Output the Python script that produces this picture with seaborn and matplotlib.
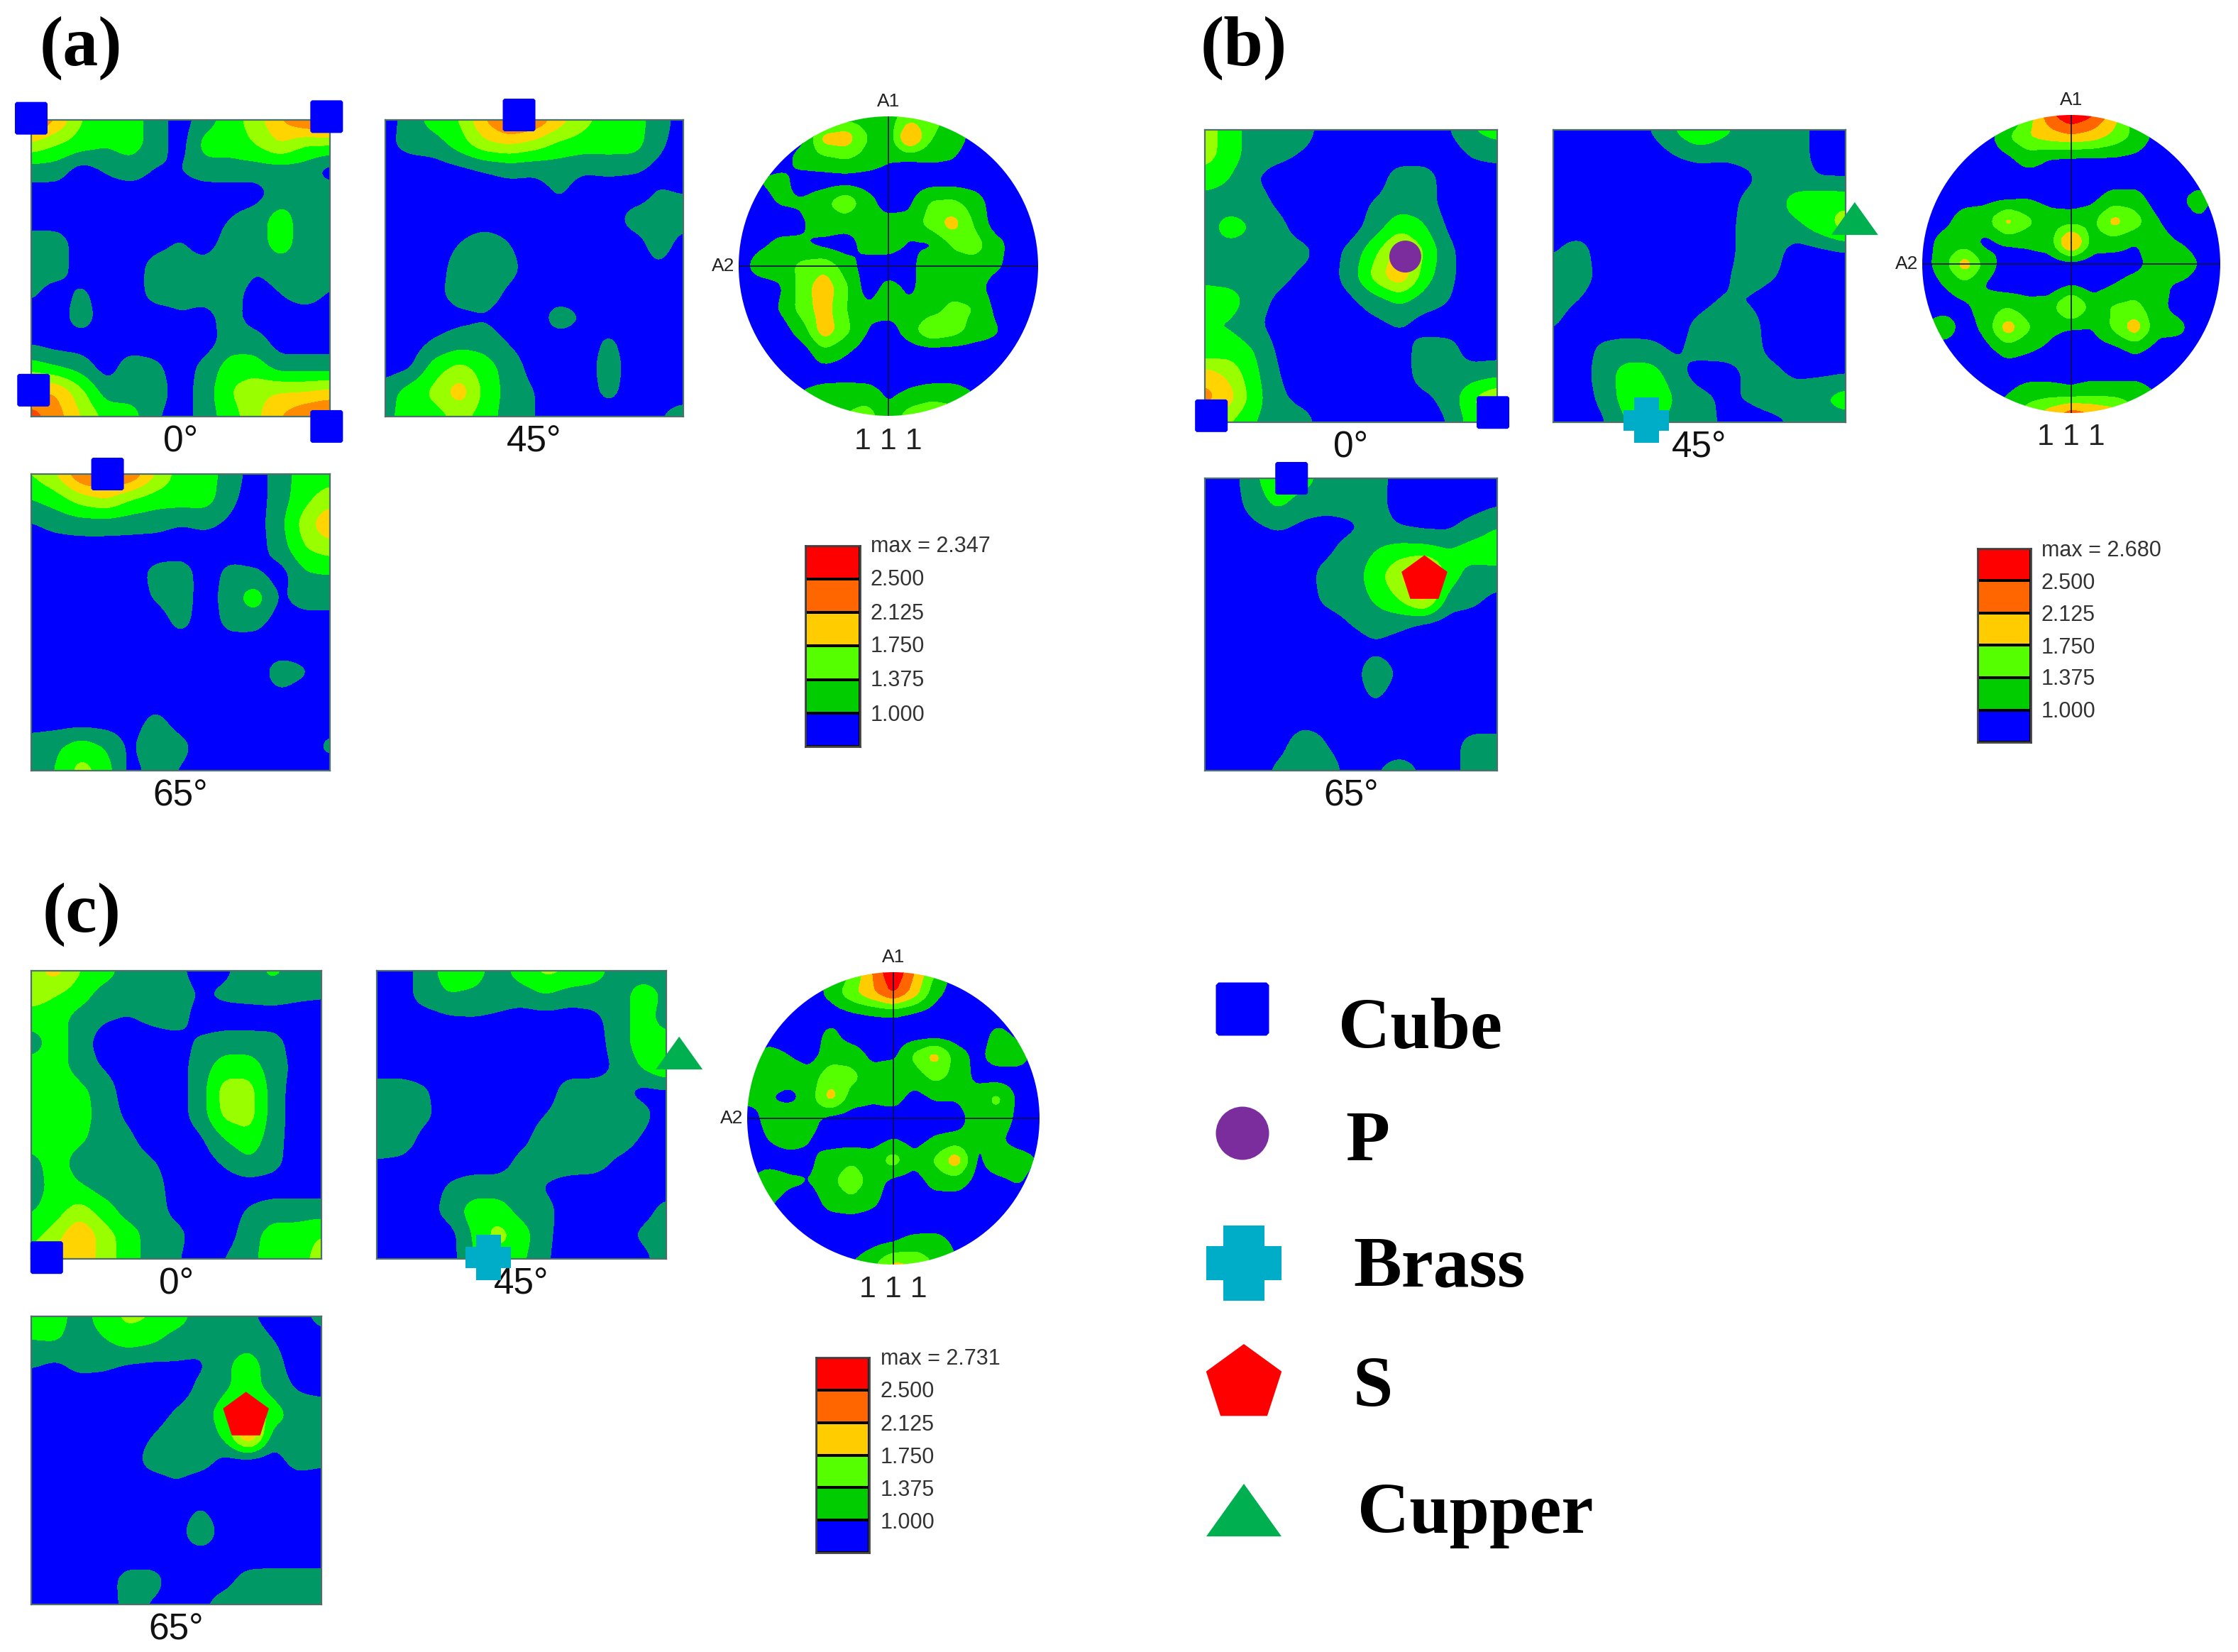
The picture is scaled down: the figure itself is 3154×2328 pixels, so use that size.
import numpy as np
import matplotlib
matplotlib.use("Agg")
import matplotlib.pyplot as plt
from matplotlib.patches import Circle
from matplotlib.path import Path
import seaborn as sns

sns.set_theme(style="white")
plt.rcParams["font.family"] = ["Liberation Sans", "DejaVu Sans"]

W, H = 3154, 2328

# ---------- colours ----------
square_colors = ["#0000FF", "#009966", "#00FF00", "#99FF00", "#FFD400", "#FF8C00", "#FF4400"]
pole_colors = ["#0000FF", "#00CC00", "#55FF00", "#FFCC00", "#FF6600", "#FF0000"]
square_levels = [-9, 0.5, 1.5, 2.5, 3.5, 4.5, 5.5, 99]
pole_levels = [-9, 0.5, 1.5, 2.5, 3.5, 4.5, 99]

# ---------- intensity bands, rows top to bottom ----------
a_0 = [
    [6, 4.5, 2.5, 2, 2, 1, 0, 1, 2, 3, 4.5, 5.5, 6],
    [3.2, 2.5, 2, 1.6, 2, 1, 0, 2, 2, 2.5, 3.5, 2.5, 2.5],
    [1, 1, 0, .6, 1, .4, .5, 1, 1, 1, 1, 1, 0],
    [0, 0, 0, 0, 0, 0, 0, 0, 0, 0, 1, 1, 1],
    [0, 0, 0, 0, 0, 0, 0, 0, .5, 1, 2, 1, 1],
    [1, 1, 0, 0, 0, .2, .6, 0, 1, 1, 2, 1, 1.5],
    [1, 1, 0, 0, 0, .9, .9, .9, 1.5, .6, 1, 1, 1],
    [.7, 0, .7, 0, 0, .9, .8, .8, 1, 0, .5, 1, .4],
    [0, 0, 1, 0, 0, 0, .4, .2, .9, 0, 0, 0, 0],
    [.3, 0, 0, 0, 0, 0, 0, 0, 1, 1, 0, 0, 0],
    [2, 1.5, 1, 0, 1, .7, 0, .8, 2, 2, 1, 1, 1],
    [4.5, 4.5, 2.8, 1, 1, 1, 0, 1, 2.5, 3.2, 3.5, 3.5, 3.8],
    [6, 5, 3.5, 2.2, 2, .6, 0, 1, 2, 3.2, 4.5, 5.5, 6],
]
a_45 = [
    [0, 1, 2, 2.5, 4.5, 6, 5.5, 4, 2.8, 2, 2, 1, 0],
    [.3, .8, 1, 2, 3.2, 3.5, 3, 2.2, 2, 2, 2, .7, 0],
    [0, 0, 0, .2, .5, .8, .7, .9, .6, .7, .6, .2, 0],
    [0, 0, 0, 0, 0, 0, 0, .6, 0, 0, 0, .6, .5],
    [0, 0, 0, 0, 0, 0, 0, 0, 0, 0, .9, 1, .8],
    [0, 0, 0, .5, 1, .5, 0, 0, 0, 0, .1, .9, .2],
    [0, 0, 0, 1, 1, .8, 0, 0, 0, 0, 0, .4, 0],
    [0, 0, .2, 1, 1, .3, 0, 0, 0, 0, 0, 0, 0],
    [0, 0, 0, .2, .4, 0, 0, 1, .4, 0, 0, 0, 0],
    [0, 0, .6, 1, 1, .4, 0, 0, 0, .7, 0, 0, 0],
    [0, .3, 2, 2.8, 2, 1, .1, 0, 0, 1, 0, 0, 0],
    [1, 2, 2.8, 4.2, 2.2, 1.1, .5, 0, 0, .8, 0, 0, 0],
    [1.2, 2, 2, 2.8, 2, 1, .5, 0, 0, 0, 0, .4, 1],
]
a_65 = [
    [2.5, 3.5, 5.5, 6, 5.5, 3.5, 2, 2, 1, 0, 1, 2, 2],
    [1.5, 2, 3, 3.5, 2.5, 2, 2, 2, .7, 0, 1, 2.2, 3],
    [.4, .8, 1, 1, .9, .8, .5, .7, .3, 0, 1.2, 3, 4.5],
    [0, 0, 0, 0, 0, 0, 0, 0, 0, 0, 1, 2.5, 3],
    [0, 0, 0, 0, 0, .8, 1, 0, .8, .6, 0, 1.4, 1.5],
    [0, 0, 0, 0, 0, .6, 1, 0, 1, 2.2, .3, 1, 1],
    [0, 0, 0, 0, 0, 0, .8, 0, .8, .8, 0, 0, 0],
    [0, 0, 0, 0, 0, 0, 0, 0, 0, 0, 0, 0, 0],
    [0, 0, 0, 0, 0, 0, 0, 0, 0, 0, 1, .6, 0],
    [0, 0, 0, 0, 0, 0, 0, 0, 0, 0, .3, 0, 0],
    [0, 0, 0, 0, 0, .8, 0, 0, 0, 0, 0, 0, 0],
    [1, 1.3, 2, 1.4, .2, 1.6, .8, 0, 0, 0, 0, 0, .8],
    [1, 1.5, 3, 2, .1, .9, .4, 0, 0, 0, 0, 0, 0],
]
b_0 = [
    [3, 2, 1, 1, 1, 0, 0, 0, 0, 0, .4, 1.5, 2],
    [3, 2, 1, .8, .4, 0, 0, 0, 0, 0, 0, .6, .8],
    [2, 1.5, .6, 0, 0, 0, 0, 0, 1, 1, 0, 0, 0],
    [1, 1, 1, .3, 0, 0, 0, .6, 1, 1, 0, 0, 0],
    [1, 2, 1.4, .8, 0, 0, 0, 1, 2.2, 1.6, .3, 0, 0],
    [1, 1, 1, 1, .8, 0, .8, 2.3, 4, 2.5, .7, 0, 0],
    [1.2, 1, 1, .8, .3, 0, 1, 3, 4.5, 2, .7, 0, 0],
    [2, 2, 1, .3, 0, 0, .3, 1, 1.7, 1, .5, 0, 0],
    [1.5, 1.4, .8, 0, 0, 0, 0, .2, .6, 0, 0, 0, 0],
    [1.5, 2, 1.5, .3, 0, 0, 0, 0, 0, 1, .9, 0, 0],
    [4, 3.2, 1.8, .5, 0, 0, 0, 0, 0, 1, .7, .9, 1.1],
    [5, 4, 2, .7, .2, 0, 0, 0, 0, .3, .8, 2.5, 3.5],
    [3, 2.5, 1.5, 1, .9, 0, 0, 0, 0, 0, .5, 2, 3],
]
b_45 = [
    [0, 0, 0, 0, .5, 1.5, 2.8, 1.8, 1, 1, 1, 0, 0],
    [0, 0, 0, 0, 0, .5, .8, .7, .8, 1, 1, 0, 0],
    [0, 0, 0, 0, 0, 0, 0, 0, .3, 1, .9, .5, .5],
    [0, 0, 0, 0, 0, 0, 0, 0, .8, 1, 2, 2.5, 2.3],
    [0, 0, 0, 0, 0, 0, 0, 0, 1, 1, 1.2, 2, 3],
    [.4, 1, 0, 0, 0, 0, 0, 0, 1, .9, 0, .2, .4],
    [1, 1, .2, 0, 0, 0, 0, .3, 1, .6, 0, 0, 0],
    [.9, .5, 0, 0, 0, 0, 0, .6, .4, 0, 0, 0, 0],
    [.6, 0, 0, 0, 0, 0, .8, 1.7, 1, 0, 0, 0, 0],
    [0, 0, .7, .9, .8, .3, .9, 1, .8, .3, 0, 0, 0],
    [0, 0, .9, 2, 2, .9, 0, 0, .7, .7, .3, .3, .4],
    [0, 0, .7, 2, 2.5, 1.4, .8, .3, .6, 1, 1, 1.4, 2],
    [0, 0, .3, 1.5, 2, 1.1, 1, .3, 0, .2, .7, 1, 1],
]
b_65 = [
    [0, 0, 1.2, 2.5, 2, 1, 1, 1, 0, 0, 0, 0, 0],
    [0, 0, .9, 1.8, 1, 1, 1, .9, 0, 0, 0, 0, .3],
    [0, 0, .3, .6, .3, 0, .3, .9, .5, .3, .3, .9, 1.5],
    [0, 0, 0, 0, 0, .3, 1, 1.5, 2, 2, 1.6, 2, 2.2],
    [0, 0, 0, 0, 0, .9, 1, 2, 3.5, 5, 2, 1, 1],
    [0, 0, 0, 0, 0, .7, 1, 1.6, 2.5, 4, 1, .7, .2],
    [0, 0, 0, 0, 0, 0, .5, .9, .7, .2, 0, 0, 0],
    [0, 0, 0, 0, 0, 0, 0, .3, 0, 0, 0, 0, 0],
    [0, 0, 0, 0, 0, 0, 0, 1.2, .3, 0, 0, 0, 0],
    [0, 0, 0, 0, 0, 0, 0, .6, 0, 0, 0, 0, 0],
    [0, 0, 0, 0, .3, .3, 0, 0, 0, 0, 0, 0, 0],
    [0, 0, 0, .2, 1, .5, 0, 0, 0, 0, 0, 1, 1],
    [0, 0, 0, .7, 1, 1, .1, .4, 1, .3, 0, 1, 1],
]
c_0 = [
    [3, 4, 2.5, 2, 1, 1, .8, 0, .3, 1, 1.8, 1, 1.2],
    [3, 2.5, 2, 1, 1, 1, 1, .4, .7, .8, .9, .7, .6],
    [2, 2, 1, .6, .4, .7, 1, 0, 0, 0, 0, 0, 0],
    [.9, 2, 1, 0, 0, 0, 0, .7, 1, 1, .9, 0, 0],
    [2, 2, 1, .4, 0, 0, 0, 1, 2, 2, 1, .2, 0],
    [2, 2.5, 1.8, 1, 0, 0, 0, 1, 3, 3, 1, 0, 0],
    [2, 2, 2, 1, .3, 0, 0, 1, 2.8, 3, 1, 0, 0],
    [2, 2, 1.7, 1, .7, 0, 0, .3, 1.5, 2.2, .9, 0, 0],
    [1.1, 2, 1, 1, 1, .6, 0, 0, .6, 1.3, .8, 0, 0],
    [.8, 2, 1.6, 1, 1, 1, 0, 0, 0, 0, 0, 0, 0],
    [1.4, 2, 3, 2, 1, 1, .2, 0, 0, .6, 1, 1, 1],
    [2, 3, 4.5, 3, 2, 1, .8, 0, 0, 1, 2, 2, 2.5],
    [3, 4, 4.5, 3, 2, 1, .6, 0, .5, 1.2, 2, 2, 3],
]
c_45 = [
    [0, 0, 1, 2, 2, 1, 2, 2.8, 2.5, 2, 1, 1, 1],
    [0, 0, 1, 1.5, 1.3, 1, 1, 1.5, 1, 1, 1, 2, 1.3],
    [0, 0, 0, .3, .4, .3, 0, 0, 0, .2, 1, 2, 1],
    [0, 0, 0, 0, 0, 0, 0, 0, 0, 0, 1, 2, 2],
    [0, 0, 0, 0, 0, 0, 0, 0, 0, 0, .7, 1.6, 2.5],
    [1, 1, .6, 0, 0, 0, 0, 0, 1, 1, .8, .2, .3],
    [1, 1, .7, 0, 0, 0, 0, .5, 1, 1, 1, .8, 0],
    [1, 1, .2, 0, 0, 0, .2, 1, 1.3, 1, 1, .4, 0],
    [.4, .3, 0, 0, 0, 0, .8, 1, 1, .9, .3, 0, 0],
    [0, 0, 0, .6, 1, 1, 1, .4, 0, 0, 0, 0, 0],
    [0, 0, 0, .9, 2, 2, 1.1, .8, 0, 0, 0, 0, .9],
    [0, 0, 0, 0, 1.6, 3, 2, .7, 0, 0, 0, .7, 1.5],
    [0, 0, 0, 0, 1.5, 2, 1.7, .6, 0, 0, 0, 0, 1.3],
]
c_65 = [
    [2, 2, 1, 2, 2.8, 2.5, 2, 1, 1, .7, 0, .3, .7],
    [1.5, 1.6, 1, 1.4, 2, 1.7, 1, 1, 1, 1.1, .5, 0, .3],
    [.6, .3, .8, .7, .4, .3, .4, .3, 1.3, 2, .9, 0, 0],
    [0, 0, 0, 0, 0, 0, 0, .7, 1.3, 2, 1, .4, .2],
    [0, 0, 0, 0, 0, 0, .6, 1, 2, 4, 2, 1, 1],
    [0, 0, 0, 0, 0, .5, 1, 1, 1.6, 5, .9, 1.7, 1],
    [0, 0, 0, 0, 0, .9, 1, .9, .2, 0, 0, .9, .7],
    [0, 0, 0, 0, 0, 0, .4, 0, 0, 0, 0, 0, 0],
    [0, 0, 0, 0, 0, 0, 0, .5, 0, 0, 0, 0, 0],
    [0, 0, 0, 0, 0, 0, 0, 1.3, 0, 0, 0, 0, 0],
    [0, 0, 0, 0, 0, 0, 0, 0, 0, 0, 0, 0, 0],
    [0, 0, 0, 0, .9, .9, 0, 0, .2, .9, 1, 1, 1],
    [0, 0, 0, 0, .8, .4, 0, .3, .9, 1, 1, 1, 1],
]
pole_a = [
    [0, 0, 0, 0, 0, 1, 1, 1, 2, 2, 1, 0, 0, 0, 0],
    [0, 0, 0, .2, 3, 3.2, 1.5, .8, 4, 1.5, 1, .2, 0, 0, 0],
    [0, 0, 0, 1, 1.2, 1.5, 1.1, .6, .5, .6, .5, 0, 0, 0, 0],
    [0, .5, .8, 0, 0, 0, 0, 0, 0, 0, 0, 0, 0, 0, 0],
    [0, .2, .6, .6, 1.2, 2.3, .9, 0, .3, 1.6, 1.7, 1, 0, 0, 0],
    [0, 0, 0, .4, 1, .9, .7, .9, .8, 2, 3, 1.4, 0, 0, 0],
    [0, .3, .8, .6, .2, 0, .9, .9, .4, .3, 1.6, 2, .9, 0, 0],
    [0, 1, 1, 1.8, 2.2, 1, 0, 0, 0, 1.6, 1, 1, .7, 0, 0],
    [0, 0, .4, 2, 3.2, 1.7, 0, .8, .3, 1, 1, 1, 0, 0, 0],
    [0, 0, .6, 2, 3, 1.5, .7, 1, .7, 1, 1.8, 1.5, .3, 0, 0],
    [0, 0, 0, 1, 3.2, 1.8, .5, 0, 1, 2.5, 2, 1.1, .6, 0, 0],
    [0, 0, 0, 0, 1.2, .6, 0, 0, 0, 0, 0, 0, .1, .4, 0],
    [0, 0, 0, 0, 0, 0, 0, 0, 0, 0, 0, 0, 0, 0, 0],
    [0, 0, 0, .6, 1, 1.1, 1, .3, .7, 1, 1, .5, 0, 0, 0],
    [0, 0, 0, .5, 1, 1.5, 2, .8, 2, 2.5, 2, 1, 0, 0, 0],
]
pole_b = [
    [0, 0, 0, 0, 0, 2, 4.2, 5.5, 4.6, 3, 1, 0, 0, 0, 0],
    [0, 0, 0, 0, 1.4, 2.5, 3, 3.3, 3, 2.2, 1.2, .2, 0, 0, 0],
    [0, 0, 0, 0, .3, 1, .5, .4, .4, .4, .3, 0, 0, 0, 0],
    [0, 0, 0, 0, 0, 0, 0, 0, 0, 0, 0, 0, 0, 0, 0],
    [0, 0, .2, .3, .4, .5, .2, 0, .3, 1, 1, 0, .2, 1, 0],
    [0, .2, 1, 1.1, 3, 1.7, 1, 1.1, 1.2, 3, 2, .6, 0, .3, 0],
    [0, .9, .9, .2, .6, .7, 1, 4.3, 1, .9, .5, .9, .5, 0, 0],
    [.1, 1, 3.2, 1, 0, 0, 0, 0, 0, 0, .2, .9, 1.6, .4, 0],
    [0, .5, 1.1, .4, 0, 0, 0, .4, .1, .5, .9, .9, .3, 0, 0],
    [0, 0, .3, 1, 1.4, .9, 1, 3, 1, 1.6, 1.8, .8, .2, 0, 0],
    [.5, 1.2, 0, .8, 3.2, 1.6, .7, .5, .5, 1.7, 3.2, .8, .8, 0, 0],
    [0, 0, 0, .2, .9, .6, .3, 0, 0, .2, .7, .2, 0, 0, 0],
    [0, 0, 0, 0, 0, 0, 0, 0, 0, 0, 0, 0, 0, 0, 0],
    [0, 0, 0, 0, .4, .9, .9, .7, 1, 1, 1, .4, 0, 0, 0],
    [0, 0, 0, 0, 1, 2, 3, 4, 3.5, 3, 1.5, .8, 0, 0, 0],
]
pole_c = [
    [0, 0, 0, 0, .5, 1.5, 3.5, 5.5, 3.5, 1.5, 0, 0, 0, 0, 0],
    [0, 0, 0, 0, .8, 2.2, 3.3, 4.6, 3, .8, 0, 0, 0, 0, 0],
    [0, 0, 0, 0, 0, .3, .5, .6, .3, 0, 0, 0, 0, 0, 0],
    [0, 0, 0, 0, .8, 0, 0, 0, 0, 0, 0, 0, .8, .3, 0],
    [.2, .9, .5, .1, 1, 1.1, .2, .2, 1.7, 3, 1, .2, 1, 1, 0],
    [.7, 1, 1, .9, 2.2, 1.8, 1, 1.6, 1, 1.8, 1.2, .2, 0, 0, 0],
    [.8, .6, .1, 1, 3, 1, .7, .9, .1, .6, .6, 1, 1.8, .2, 0],
    [0, .8, 1.5, .9, .1, 0, 0, 0, 0, 0, 0, 1, 1.2, .2, 0],
    [0, .5, 1, .5, 0, 0, 0, .5, .1, .6, .8, .6, .7, 0, 0],
    [0, 0, 0, .3, 1, 1.3, 1, 2, .8, 1.6, 3.3, .3, 1, 1, .4],
    [.3, 1.2, .7, .5, 1.2, 2.2, 1, .2, 0, .9, 1, .2, .3, .6, 0],
    [0, .7, .1, 0, .9, 1.2, .7, 0, 0, 0, 0, 0, 0, 0, 0],
    [0, 0, 0, 0, 0, 0, 0, 0, 0, 0, 0, 0, 0, 0, 0],
    [0, 0, 0, 0, 0, 0, .3, .5, .9, 1, .3, 0, 0, 0, 0],
    [0, 0, 0, 0, 0, .5, 1.2, 2.8, 2.5, 1.3, .6, 0, 0, 0, 0],
]

# ---------- texture component positions on each map (0-90 deg) ----------
cube_a0_x, cube_a0_y = [0, 89, 0.7, 89], [90.5, 91, 8, -3]
cube_a45_x, cube_a45_y = [40.4], [91.5]
cube_a65_x, cube_a65_y = [23], [90]
cube_b0_x, cube_b0_y = [2, 88.7], [2, 3]
p_b0_x, p_b0_y = [61.7], [51]
brass_b45_x, brass_b45_y = [28.7], [0.6]
cupper_b45_x, cupper_b45_y = [92.8], [62.7]
cube_b65_x, cube_b65_y = [26.7], [90]
s_b65_x, s_b65_y = [67.6], [58.9]
cube_c0_x, cube_c0_y = [4.8], [0.4]
brass_c45_x, brass_c45_y = [34.7], [0.4]
cupper_c45_x, cupper_c45_y = [94], [64.3]
s_c65_x, s_c65_y = [66.6], [58.9]

# ---------- legends ----------
level_labels = ["2.500", "2.125", "1.750", "1.375", "1.000"]
max_labels = ["max = 2.347", "max = 2.680", "max = 2.731"]
component_names = ["Cube", "P", "Brass", "S", "Cupper"]

# marker shapes
cube_marker = Path([(-.5, -.45), (-.45, -.5), (.45, -.5), (.5, -.45), (.5, .45), (.45, .5), (-.45, .5), (-.5, .45),
                    (-.5, -.45)], closed=True)
brass_marker = Path([(-.5, -.23), (-.27, -.23), (-.27, -.5), (.27, -.5), (.27, -.23), (.5, -.23),
                     (.5, .23), (.27, .23), (.27, .5), (-.27, .5), (-.27, .23), (-.5, .23), (-.5, -.23)], closed=True)
cupper_marker = Path([(-.5, -.35), (0, .35), (.5, -.35), (-.5, -.35)], closed=True)
MARKERS = {
    "cube": (cube_marker, "#0000FF", 46),
    "p": ("o", "#7B2D9E", 45),
    "brass": (brass_marker, "#00ADC8", 64),
    "s": ("p", "#FF0000", 68),
    "cupper": (cupper_marker, "#00B050", 66),
}


def smooth_grid(rows, k=10, passes=2, size=5):
    # bilinear refine, then a few box blurs so contours are not polygonal
    z = np.array(rows, dtype=float)
    ny, nx = z.shape
    xi = np.linspace(0, nx - 1, (nx - 1) * k + 1)
    yi = np.linspace(0, ny - 1, (ny - 1) * k + 1)
    z = np.array([np.interp(xi, np.arange(nx), r) for r in z])
    z = np.array([np.interp(yi, np.arange(ny), c) for c in z.T]).T
    kern = np.ones(size) / size
    pad = size // 2
    for _ in range(passes):
        z = np.pad(z, ((pad, pad), (0, 0)), mode="edge")
        z = np.apply_along_axis(np.convolve, 0, z, kern, mode="valid")
        z = np.pad(z, ((0, 0), (pad, pad)), mode="edge")
        z = np.apply_along_axis(np.convolve, 1, z, kern, mode="valid")
    return z


def px_axes(fig, x0, y0, x1, y1):
    return fig.add_axes([x0 / W, 1 - y1 / H, (x1 - x0) / W, (y1 - y0) / H])


def put_marker(ax, kind, xs, ys):
    m, col, width = MARKERS[kind]
    sns.scatterplot(x=xs, y=ys, ax=ax, marker=m, color=col, s=(width * 0.72) ** 2,
                    linewidth=0, edgecolor="none", clip_on=False, zorder=10, legend=False)


def square_map(fig, box, rows, label, marks):
    ax = px_axes(fig, *box)
    z = smooth_grid(rows)
    xs = np.linspace(0, 90, z.shape[1])
    ys = np.linspace(90, 0, z.shape[0])
    ax.contourf(xs, ys, z, levels=square_levels, colors=square_colors, antialiased=False)
    ax.set_xlim(0, 90)
    ax.set_ylim(0, 90)
    ax.set_xticks([])
    ax.set_yticks([])
    for s in ax.spines.values():
        s.set_visible(True)
        s.set_color("#4F6F6A")
        s.set_linewidth(1.6)
    off = 36 / (box[3] - box[1]) * 90
    ax.text(45, -off, label, ha="center", va="center", fontsize=37, color="#111111")
    for kind, xv, yv in marks:
        put_marker(ax, kind, xv, yv)


def pole_map(fig, cx, cy, r, rows, txt_y):
    ax = px_axes(fig, cx - r, cy - r, cx + r, cy + r)
    z = smooth_grid(rows, passes=1)
    xs = np.linspace(-1, 1, z.shape[1])
    ys = np.linspace(1, -1, z.shape[0])
    cs = ax.contourf(xs, ys, z, levels=pole_levels, colors=pole_colors, antialiased=False)
    clip = Circle((0, 0), 1, transform=ax.transData)
    cs.set_clip_path(clip)
    l1 = ax.plot([-1, 1], [0, 0], color="#10104A", lw=1.2)[0]
    l2 = ax.plot([0, 0], [-1, 1], color="#10104A", lw=1.2)[0]
    l1.set_clip_path(clip)
    l2.set_clip_path(clip)
    ax.set_xlim(-1, 1)
    ax.set_ylim(-1, 1)
    ax.axis("off")
    ax.text(0, 1 + 21 / r, "A1", ha="center", va="center", fontsize=19, color="#222222")
    ax.text(-1 - 6 / r, 0, "A2", ha="right", va="center", fontsize=19, color="#222222")
    ax.text(0, -1 - (txt_y - cy - r) / r, "1 1 1", ha="center", va="center", fontsize=31, color="#222222")


def level_bar(fig, box, label_x, label_ys, title):
    ax = px_axes(fig, *box)
    sns.heatmap(np.arange(5, -1, -1).reshape(-1, 1), ax=ax, cmap=pole_colors, cbar=False,
                xticklabels=False, yticklabels=False, linewidths=2.6, linecolor="black",
                vmin=-.5, vmax=5.5)
    for s in ax.spines.values():
        s.set_visible(True)
        s.set_color("#444444")
        s.set_linewidth(2)
    for txt, y in zip([title] + level_labels, label_ys):
        fig.text(label_x / W, 1 - y / H, txt, fontsize=22, color="#333333", va="center", ha="left")


fig = plt.figure(figsize=(W / 100, H / 100), dpi=100, facecolor="white")

# ---------- (a) ----------
square_map(fig, (44, 169, 465, 587), a_0, "0°", [("cube", cube_a0_x, cube_a0_y)])
square_map(fig, (543, 169, 963, 587), a_45, "45°", [("cube", cube_a45_x, cube_a45_y)])
square_map(fig, (44, 668, 465, 1086), a_65, "65°", [("cube", cube_a65_x, cube_a65_y)])
pole_map(fig, 1252, 375, 211, pole_a, 622)
level_bar(fig, (1135, 769, 1212, 1052), 1227, [770, 817, 865, 911, 959, 1008], max_labels[0])

# ---------- (b) ----------
square_map(fig, (1698, 183, 2110, 595), b_0, "0°",
           [("cube", cube_b0_x, cube_b0_y), ("p", p_b0_x, p_b0_y)])
square_map(fig, (2189, 183, 2601, 595), b_45, "45°",
           [("brass", brass_b45_x, brass_b45_y), ("cupper", cupper_b45_x, cupper_b45_y)])
square_map(fig, (1698, 674, 2110, 1086), b_65, "65°",
           [("cube", cube_b65_x, cube_b65_y), ("s", s_b65_x, s_b65_y)])
pole_map(fig, 2919, 372, 210, pole_b, 616)
level_bar(fig, (2787, 773, 2862, 1046), 2877, [776, 822, 867, 913, 957, 1003], max_labels[1])

# ---------- (c) ----------
square_map(fig, (44, 1368, 453, 1774), c_0, "0°", [("cube", cube_c0_x, cube_c0_y)])
square_map(fig, (531, 1368, 939, 1774), c_45, "45°",
           [("brass", brass_c45_x, brass_c45_y), ("cupper", cupper_c45_x, cupper_c45_y)])
square_map(fig, (44, 1855, 453, 2261), c_65, "65°", [("s", s_c65_x, s_c65_y)])
pole_map(fig, 1259, 1576, 206, pole_c, 1817)
level_bar(fig, (1150, 1913, 1225, 2188), 1241, [1915, 1961, 2008, 2054, 2100, 2146], max_labels[2])

# ---------- overlay in image pixels: panel letters and component key ----------
ov = fig.add_axes([0, 0, 1, 1], zorder=20)
ov.patch.set_alpha(0)
serif = ["Liberation Serif", "DejaVu Serif"]
for txt, x, y in [("(a)", 56, 68), ("(b)", 1692, 68), ("(c)", 60, 1289)]:
    ov.text(x, y, txt, fontsize=72, fontweight="bold", family=serif, ha="left", va="center", color="black")

key_x = [1751, 1751, 1753, 1753, 1753]
key_y = [1422, 1597, 1780, 1950, 2128]
key_kind = ["cube", "p", "brass", "s", "cupper"]
key_width = [75, 75, 106, 112, 106]
key_text_x = [1886, 1896, 1907, 1907, 1913]
key_text_y = [1477, 1635, 1813, 1982, 2160]
for i, kind in enumerate(key_kind):
    m, col, _ = MARKERS[kind]
    sns.scatterplot(x=[key_x[i]], y=[key_y[i]], ax=ov, marker=m, color=col, s=(key_width[i] * 0.72) ** 2,
                    linewidth=0, edgecolor="none", legend=False)
    ov.text(key_text_x[i], key_text_y[i], component_names[i], fontsize=73, fontweight="bold", family=serif,
            ha="left", va="baseline", color="black")
ov.set_xlim(0, W)
ov.set_ylim(H, 0)
ov.axis("off")

fig.savefig("out.png", dpi=100, facecolor="white")
